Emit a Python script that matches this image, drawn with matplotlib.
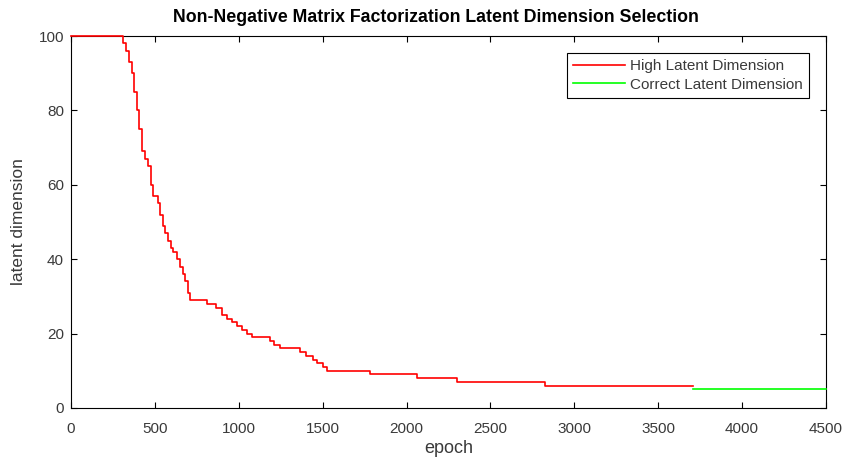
import matplotlib
matplotlib.use('Agg')
import matplotlib.pyplot as plt

# latent dimension over epochs
high_epoch = [0, 310, 330, 345, 363, 378, 393, 408, 423, 440, 459, 475, 489, 518,
              530, 548, 560, 580, 595, 610, 630, 650, 665, 679, 695, 709, 810, 865,
              900, 930, 960, 990, 1020, 1049, 1079, 1186, 1210, 1246, 1365, 1400,
              1440, 1466, 1500, 1526, 1782, 2062, 2300, 2825, 3707]
high_dim = [100, 98, 96, 93, 90, 85, 80, 75, 69, 67, 65, 60, 57, 55,
            52, 49, 47, 45, 43, 42, 40, 38, 36, 34, 31, 29, 28, 27,
            25, 24, 23, 22, 21, 20, 19, 18, 17, 16, 15, 14,
            13, 12, 11, 10, 9, 8, 7, 6, 6]

correct_epoch = [3707, 4500]
correct_dim = [5, 5]

plt.rcParams['font.family'] = ['Liberation Sans', 'DejaVu Sans']
grey = '#3a3a3a'

fig = plt.figure(figsize=(8.47, 4.62), dpi=100)
ax = fig.add_axes([0.0838, 0.117, 0.8914, 0.805])

ax.plot(high_epoch, high_dim, color='#ff0000', lw=1.2, drawstyle='steps-post',
        label='High Latent Dimension', clip_on=False, zorder=3)
ax.plot(correct_epoch, correct_dim, color='#00ff00', lw=1.2,
        label='Correct Latent Dimension', clip_on=False, zorder=3)

ax.set_xlim(0, 4500)
ax.set_ylim(0, 100)
ax.set_xticks(range(0, 4501, 500))
ax.set_yticks(range(0, 101, 20))
ax.tick_params(direction='in', top=True, right=True, length=4, width=0.8,
               labelsize=11, color='black', labelcolor=grey)
ax.tick_params(axis='x', pad=10)
ax.tick_params(axis='y', pad=5)
for s in ax.spines.values():
    s.set_linewidth(0.8)

ax.set_xlabel('epoch', fontsize=13, labelpad=3, color=grey)
ax.set_ylabel('latent dimension', fontsize=12.5, labelpad=9, color=grey)
ax.set_title('Non-Negative Matrix Factorization Latent Dimension Selection',
             fontsize=12.8, fontweight='bold', pad=10, x=0.483)

leg = ax.legend(loc='upper right', bbox_to_anchor=(0.9775, 0.954), fontsize=11,
                fancybox=False, edgecolor='black', framealpha=1,
                handlelength=3.4, handletextpad=0.33, borderpad=0.4,
                labelspacing=0.3, borderaxespad=0)
leg.get_frame().set_linewidth(0.8)
for t in leg.get_texts():
    t.set_color(grey)

fig.savefig('out.png', dpi=100)
